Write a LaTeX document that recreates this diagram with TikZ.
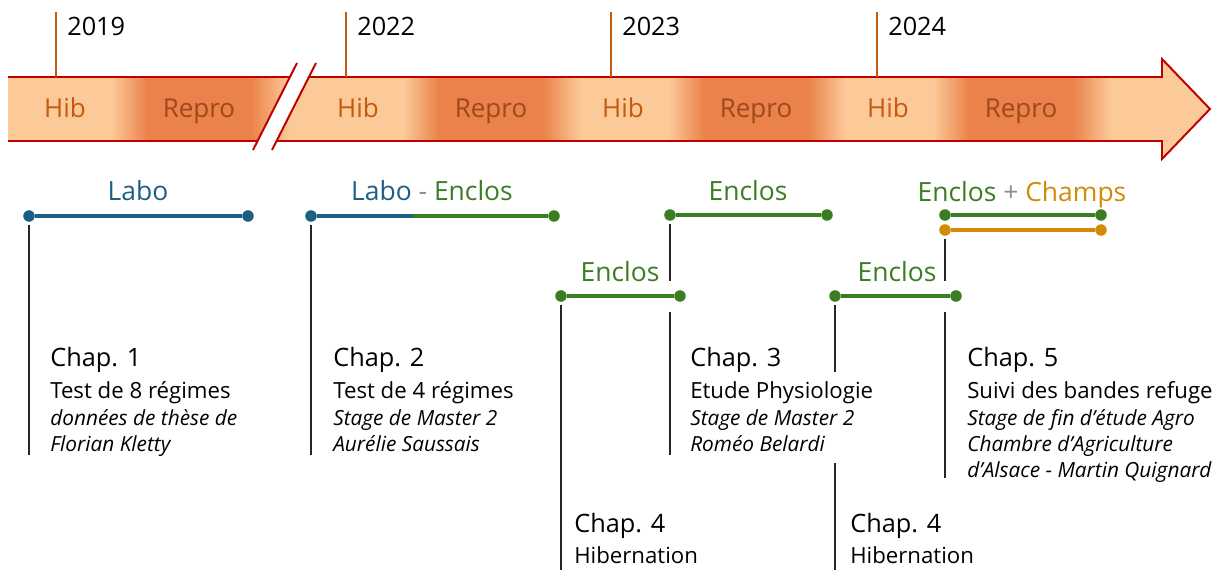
\documentclass[tikz,border=0pt]{standalone}
\usepackage{fontspec}
\setmainfont{Open Sans}
\usetikzlibrary{positioning}

\definecolor{bandlight}{HTML}{FBCA98}
\definecolor{banddark}{HTML}{EB824B}
\definecolor{bandred}{HTML}{C00000}
\definecolor{tickorange}{HTML}{C55A11}
\definecolor{reprobrown}{HTML}{A0481C}
\definecolor{labocol}{HTML}{1C5E84}
\definecolor{encloscol}{HTML}{3A7D22}
\definecolor{champscol}{HTML}{D38B05}
\definecolor{signgray}{HTML}{8C8C8C}
\definecolor{stemcol}{HTML}{262626}

\tikzset{
  bar/.style={line width=2.5pt},
  dot/.style={circle, fill, inner sep=0pt, minimum size=8.2pt},
  stem/.style={stemcol, line width=1.1pt},
  period/.style={anchor=base, font=\fontsize{18.8}{22}\selectfont},
  season/.style={anchor=base, font=\fontsize{18.5}{22}\selectfont},
  year/.style={anchor=base west, inner xsep=0pt, font=\fontsize{18}{21}\selectfont},
  chaptitle/.style={anchor=base west, inner xsep=0pt, font=\fontsize{18}{21}\selectfont},
  chapline/.style={anchor=base west, inner xsep=0pt, font=\fontsize{15.8}{19}\selectfont},
  chapnote/.style={anchor=base west, inner xsep=0pt, font=\fontsize{14.8}{17}\selectfont\itshape},
}

\begin{document}
\begin{tikzpicture}[x=0.025cm, y=-0.025cm]
        \useasboundingbox (0,0) rectangle (1226,570);
        % time band
        \fill[bandlight] (8,77) -- (1162,77) -- (1162,59) -- (1210,109) -- (1162,159) -- (1162,141) -- (8,141) -- cycle;
        \foreach \c in {199,491,756,1021} {
            \fill[left color=bandlight, right color=banddark] (\c-88,77) rectangle (\c-52,141);
            \fill[banddark] (\c-52.5,77) rectangle (\c+52.5,141);
            \fill[left color=banddark, right color=bandlight] (\c+52,77) rectangle (\c+90,141);
        }
        \draw[bandred, line width=1.4pt] (8,77) -- (1162,77) -- (1162,59) -- (1210,109) -- (1162,159) -- (1162,141) -- (8,141);
        % break
        \fill[white] (297,63) -- (316,63) -- (272,150) -- (253,150) -- cycle;
        \draw[bandred, line width=1.4pt] (297,63) -- (253,150);
        \draw[bandred, line width=1.4pt] (316,63) -- (272,150);
        % years
        \foreach \x/\yr in {56/2019, 346/2022, 611/2023, 877/2024} {
            \coordinate (t\yr) at (\x,77);
            \draw[tickorange, line width=1.1pt] (t\yr) -- ++(0,-65);
            \node[year] (y\yr) at (\x+11,36) {\yr};
        }
        \foreach \x [count=\i] in {65,358,623,888}
            \node[season, text=tickorange] (hib\i) at (\x,118) {Hib};
        \foreach \x [count=\i] in {199,491,756,1021}
            \node[season, text=reprobrown] (repro\i) at (\x,118) {Repro};

        % periods
        \node[dot, labocol] (labo1) at (29,216) {};
        \node[dot, labocol] (labo2) at (248,216) {};
        \draw[bar, labocol] (labo1) -- (labo2);
        \node[period, text=labocol] (laboL) at (138,201) {Labo};

        \node[dot, labocol] (le1) at (311,216) {};
        \node[dot, encloscol] (le2) at (554,216) {};
        \coordinate (lemid) at (413,216);
        \draw[bar, labocol] (le1) -- (lemid);
        \draw[bar, encloscol] (lemid) -- (le2);
        \node[period] (leL) at (432,201) {\textcolor{labocol}{Labo} \textcolor{signgray}{-} \textcolor{encloscol}{Enclos}};

        \node[dot, encloscol] (enc1) at (670,215) {};
        \node[dot, encloscol] (enc2) at (827,215) {};
        \draw[bar, encloscol] (enc1) -- (enc2);
        \node[period, text=encloscol] (encL) at (748,201) {Enclos};

        \node[dot, encloscol] (encA1) at (561,296) {};
        \node[dot, encloscol] (encA2) at (680,296) {};
        \draw[bar, encloscol] (encA1) -- (encA2);
        \node[period, text=encloscol] (encAL) at (620,282) {Enclos};

        \node[dot, encloscol] (encB1) at (835,296) {};
        \node[dot, encloscol] (encB2) at (956,296) {};
        \draw[bar, encloscol] (encB1) -- (encB2);
        \node[period, text=encloscol] (encBL) at (897,282) {Enclos};

        \node[dot, encloscol] (ec1) at (945,215) {};
        \node[dot, encloscol] (ec2) at (1101,215) {};
        \draw[bar, encloscol] (ec1) -- (ec2);
        \node[dot, champscol] (ch1) at (945,230) {};
        \node[dot, champscol] (ch2) at (1101,230) {};
        \draw[bar, champscol] (ch1) -- (ch2);
        \node[period] (ecL) at (1022,202) {\textcolor{encloscol}{Enclos} \textcolor{signgray}{+} \textcolor{champscol}{Champs}};

        % stems
        \coordinate (s1) at (29,455);
        \coordinate (s2) at (311,455);
        \coordinate (s3a) at (670,281);
        \coordinate (s3b) at (670,312);
        \coordinate (s3c) at (670,455);
        \coordinate (s4) at (561,570);
        \coordinate (s4a) at (835,372);
        \coordinate (s4b) at (835,463);
        \coordinate (s4c) at (835,570);
        \coordinate (s5a) at (945,281);
        \coordinate (s5b) at (945,312);
        \coordinate (s5c) at (945,478);
        \draw[stem, shorten <=2pt] (labo1) -- (s1);
        \draw[stem, shorten <=2pt] (le1) -- (s2);
        \draw[stem, shorten <=2pt] (enc1) -- (s3a);
        \draw[stem] (s3b) -- (s3c);
        \draw[stem, shorten <=2pt] (encA1) -- (s4);
        \draw[stem, shorten <=2pt] (encB1) -- (s4a);
        \draw[stem] (s4b) -- (s4c);
        \draw[stem, shorten <=2pt] (ch1) -- (s5a);
        \draw[stem] (s5b) -- (s5c);

        % chapters
        \node[chaptitle] (c1) at (50,367) {Chap. 1};
        \node[chapline] (c1a) at (50,399) {Test de 8 régimes};
        \node[chapnote] (c1b) at (50,426) {données de thèse de};
        \node[chapnote] (c1c) at (50,452) {Florian Kletty};

        \node[chaptitle] (c2) at (333,367) {Chap. 2};
        \node[chapline] (c2a) at (333,399) {Test de 4 régimes};
        \node[chapnote] (c2b) at (333,426) {Stage de Master 2};
        \node[chapnote] (c2c) at (333,452) {Aurélie Saussais};

        \node[chaptitle] (c3) at (690,367) {Chap. 3};
        \node[chapline] (c3a) at (690,399) {Etude Physiologie};
        \node[chapnote] (c3b) at (690,426) {Stage de Master 2};
        \node[chapnote] (c3c) at (690,452) {Roméo Belardi};

        \node[chaptitle] (c4) at (574,533) {Chap. 4};
        \node[chapline] (c4a) at (574,563) {Hibernation};

        \node[chaptitle] (c4r) at (850,533) {Chap. 4};
        \node[chapline] (c4ra) at (850,563) {Hibernation};

        \node[chaptitle] (c5) at (967,367) {Chap. 5};
        \node[chapline] (c5a) at (967,399) {Suivi des bandes refuge};
        \node[chapnote] (c5b) at (967,426) {Stage de fin d’étude Agro};
        \node[chapnote] (c5c) at (967,452) {Chambre d’Agriculture};
        \node[chapnote] (c5d) at (967,478) {d’Alsace - Martin Quignard};
    \end{tikzpicture}
\end{document}
